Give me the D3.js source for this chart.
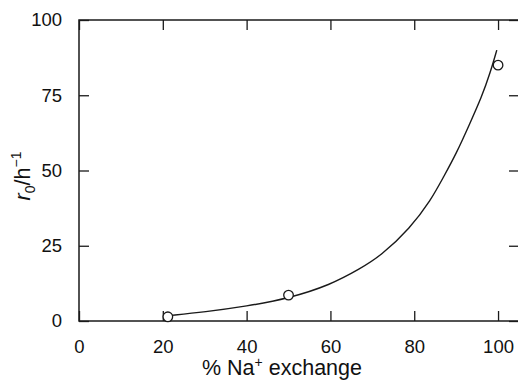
<!DOCTYPE html>
<html>
<head>
<meta charset="utf-8">
<script src="https://cdn.jsdelivr.net/npm/d3@7"></script>
<style>
  html, body { margin: 0; padding: 0; background: #fff; }
  svg { display: block; }
  text { font-family: "Liberation Sans", Arial, Helvetica, sans-serif; fill: #111; }
</style>
</head>
<body>
<svg id="chart" width="518" height="380"></svg>
<script>
// Measured initial rates r0 (h^-1) versus percentage of Na+ exchange
const exchangePct = [21.2, 50, 100];
const rateObserved = [1.4, 8.6, 85];

// Fitted trend curve through the measurements
const fitPct  = [21.5, 30, 40, 50, 60, 67, 72, 79, 84, 87, 90, 93.3, 96.1, 98.1, 99.7];
const fitRate = [1.8, 3.0, 4.9, 7.5, 12.0, 17.3, 21.6, 30.8, 40.2, 47.9, 55.5, 65.7, 74.5, 82.3, 90.0];

// Axis ticks
const xTicks = [0, 20, 40, 60, 80, 100];
const yTicks = [0, 25, 50, 75, 100];

const svg = d3.select("#chart");
const plotLeft = 79, plotRight = 519, plotTop = 20, plotBottom = 321;

const x = d3.scaleLinear().domain([0, 105]).range([plotLeft, plotRight]);
const y = d3.scaleLinear().domain([0, 100]).range([plotBottom, plotTop]);

const ink = "#1a1a1a";
const tickLen = 10;

// Frame
svg.append("rect")
  .attr("x", plotLeft).attr("y", plotTop)
  .attr("width", plotRight - plotLeft).attr("height", plotBottom - plotTop)
  .attr("fill", "none").attr("stroke", ink).attr("stroke-width", 1.5);

// Bottom axis: inward ticks and labels
const xAxis = d3.axisBottom(x).tickValues(xTicks).tickSizeInner(-tickLen).tickSizeOuter(0).tickPadding(19);
const gx = svg.append("g").attr("transform", `translate(0,${plotBottom})`).call(xAxis);
gx.select(".domain").remove();
gx.selectAll(".tick line").attr("stroke", ink).attr("stroke-width", 1.3);
gx.selectAll(".tick text").attr("font-size", 18.5).attr("fill", "#111")
  .style("font-family", "'Liberation Sans', Arial, sans-serif");

// Top axis: inward ticks only
const gxt = svg.append("g").attr("transform", `translate(0,${plotTop})`)
  .call(d3.axisTop(x).tickValues(xTicks).tickSizeInner(-tickLen).tickSizeOuter(0).tickFormat(""));
gxt.select(".domain").remove();
gxt.selectAll(".tick line").attr("stroke", ink).attr("stroke-width", 1.3);

// Left axis: inward ticks and labels
const yAxis = d3.axisLeft(y).tickValues(yTicks).tickSizeInner(-tickLen).tickSizeOuter(0).tickPadding(17);
const gy = svg.append("g").attr("transform", `translate(${plotLeft},0)`).call(yAxis);
gy.select(".domain").remove();
gy.selectAll(".tick line").attr("stroke", ink).attr("stroke-width", 1.3);
gy.selectAll(".tick text").attr("font-size", 18.5).attr("fill", "#111")
  .style("font-family", "'Liberation Sans', Arial, sans-serif");

// Right axis: inward ticks only
const gyr = svg.append("g").attr("transform", `translate(${plotRight},0)`)
  .call(d3.axisRight(y).tickValues(yTicks).tickSizeInner(-tickLen).tickSizeOuter(0).tickFormat(""));
gyr.select(".domain").remove();
gyr.selectAll(".tick line").attr("stroke", ink).attr("stroke-width", 1.3);

// Fitted curve
const fitData = fitPct.map((p, i) => [p, fitRate[i]]);
svg.append("path")
  .datum(fitData)
  .attr("fill", "none")
  .attr("stroke", ink)
  .attr("stroke-width", 1.4)
  .attr("d", d3.line().x(d => x(d[0])).y(d => y(d[1])).curve(d3.curveBasis));

// Observed points
svg.append("g").selectAll("circle")
  .data(exchangePct.map((p, i) => [p, rateObserved[i]]))
  .join("circle")
  .attr("cx", d => x(d[0]))
  .attr("cy", d => y(d[1]))
  .attr("r", 4.8)
  .attr("fill", "#fff")
  .attr("stroke", ink)
  .attr("stroke-width", 1.3);

// X axis title
const xt = svg.append("text")
  .attr("x", 282).attr("y", 375)
  .attr("text-anchor", "middle")
  .attr("font-size", 21.5);
xt.append("tspan").text("% Na");
xt.append("tspan").attr("dy", -8).attr("font-size", 14).text("+");
xt.append("tspan").attr("dy", 8).text(" exchange");

// Y axis title
const yt = svg.append("text")
  .attr("transform", "translate(30,176) rotate(-90)")
  .attr("text-anchor", "middle")
  .attr("font-size", 21.5);
yt.append("tspan").attr("font-style", "italic").text("r");
yt.append("tspan").attr("dy", 5).attr("font-size", 14).text("0");
yt.append("tspan").attr("dy", -5).text("/h");
yt.append("tspan").attr("dy", -9).attr("font-size", 14).text("\u22121");
</script>
</body>
</html>
